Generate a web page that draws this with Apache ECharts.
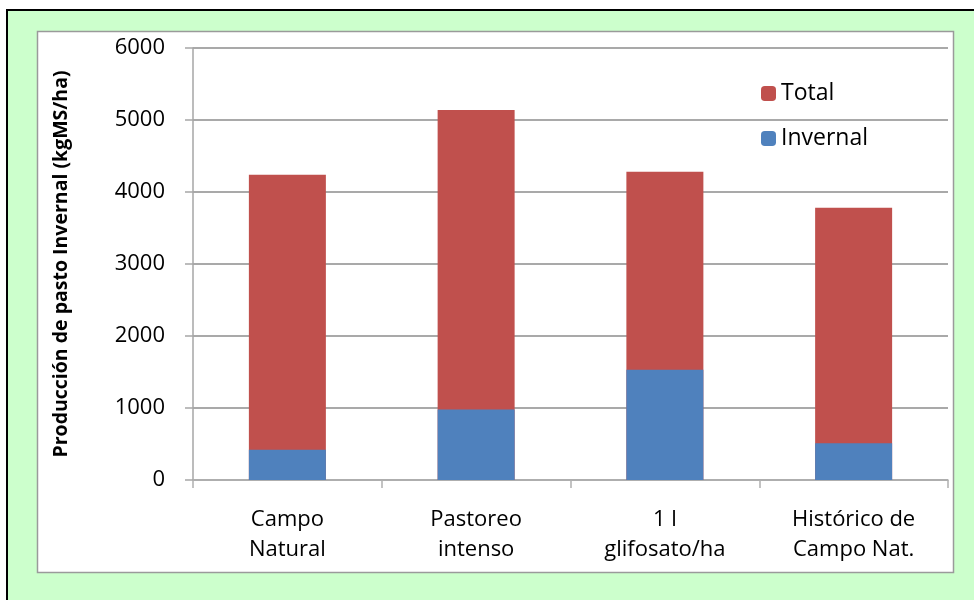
<!DOCTYPE html>
<html>
<head>
<meta charset="utf-8">
<script src="https://cdn.jsdelivr.net/npm/echarts@6/dist/echarts.min.js"></script>
<style>
  html, body { margin: 0; padding: 0; background: #fff; }
  #chart { width: 974px; height: 600px; }
</style>
</head>
<body>
<div id="chart"></div>
<script>
// datos
const categorias = ['Campo\nNatural', 'Pastoreo\nintenso', '1 l\nglifosato/ha', 'Histórico de\nCampo Nat.'];
const total = [4240, 5140, 4280, 3780];
const invernal = [420, 980, 1530, 510];
const yTicks = [0, 1000, 2000, 3000, 4000, 5000, 6000];

const fuente = '"Open Sans", "Noto Sans", sans-serif';

let chart = echarts.init(document.getElementById('chart'));
let option = {
  backgroundColor: '#fff',
  animation: false,
  textStyle: { fontFamily: fuente },
  graphic: [
    {
      type: 'rect', z: -10,
      shape: { x: 7, y: 10, width: 1000, height: 700 },
      style: { fill: '#ccffcc', stroke: '#000', lineWidth: 2 }
    },
    {
      type: 'rect', z: -9,
      shape: { x: 37.5, y: 31.5, width: 916, height: 541 },
      style: { fill: '#fff', stroke: '#9a9a9a', lineWidth: 1.5 }
    }
  ],
  grid: { left: 193, right: 26, top: 48, bottom: 120 },
  legend: {
    data: ['Total', 'Invernal'],
    orient: 'vertical',
    left: 756,
    top: 77,
    itemWidth: 15,
    itemHeight: 15,
    itemGap: 22,
    textStyle: { fontSize: 23, color: '#000', fontFamily: fuente }
  },
  xAxis: {
    type: 'category',
    data: categorias,
    axisLine: { lineStyle: { color: '#b0b0b0', width: 1.5 } },
    axisTick: { show: true, length: 8, lineStyle: { color: '#b0b0b0', width: 1.5 } },
    axisLabel: {
      interval: 0,
      fontSize: 22,
      color: '#000',
      lineHeight: 30,
      margin: 25,
      fontFamily: fuente
    }
  },
  yAxis: {
    type: 'value',
    min: yTicks[0],
    max: yTicks[yTicks.length - 1],
    interval: 1000,
    name: 'Producción de pasto Invernal (kgMS/ha)',
    nameLocation: 'middle',
    nameGap: 122,
    nameTextStyle: { fontSize: 19.5, fontWeight: 'bold', color: '#000', fontFamily: fuente },
    axisLine: { show: true, lineStyle: { color: '#a6a6a6', width: 1.5 } },
    axisTick: { show: true, length: 8, lineStyle: { color: '#a6a6a6', width: 1.5 } },
    axisLabel: {
      fontSize: 22, color: '#000', margin: 28, fontFamily: fuente,
      formatter: v => String(v)
    },
    splitLine: { lineStyle: { color: '#8c8c8c', width: 1.5 } }
  },
  series: [
    {
      name: 'Total',
      type: 'bar',
      data: total,
      barWidth: 77,
      barGap: '-100%',
      itemStyle: { color: '#c0504d' }
    },
    {
      name: 'Invernal',
      type: 'bar',
      data: invernal,
      barWidth: 77,
      itemStyle: { color: '#4f81bd' }
    }
  ]
};
chart.setOption(option);
</script>
</body>
</html>
